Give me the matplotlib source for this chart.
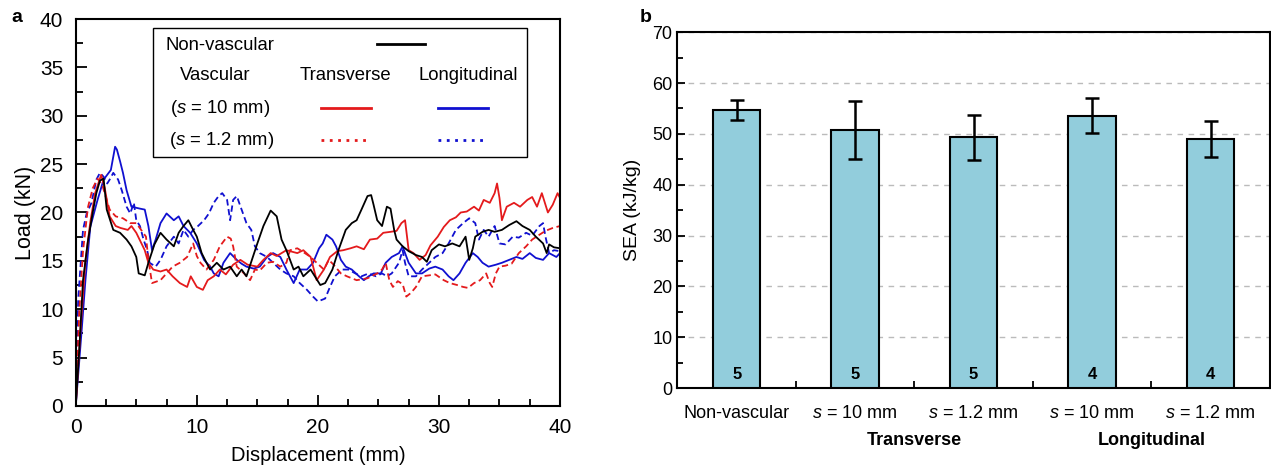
import numpy as np
import matplotlib
matplotlib.use("Agg")
import matplotlib.pyplot as plt
from matplotlib.patches import Rectangle
from matplotlib.ticker import MultipleLocator, FixedLocator
import matplotlib.transforms as mtransforms

plt.rcParams['font.family'] = ['Liberation Sans', 'DejaVu Sans']
plt.rcParams['mathtext.fontset'] = 'custom'
plt.rcParams['mathtext.it'] = 'Liberation Sans:italic'
plt.rcParams['mathtext.rm'] = 'Liberation Sans'

# ---- panel a: load-displacement curves (displacement mm, load kN) ----
non_vascular = [
    (0, 0), (0.3, 6), (0.6, 13), (1.0, 17), (1.4, 20), (1.7, 22), (2.0, 23.3), (2.3, 23.5),
    (2.56, 20.3), (3.1, 18.2), (3.66, 17.9), (4.2, 17.2), (4.6, 16.5), (5.0, 15.4), (5.2, 13.7),
    (5.7, 13.5), (6.0, 14.8), (6.5, 16.7), (7.0, 17.9), (7.5, 17.2), (8.1, 16.5), (8.5, 17.9),
    (8.9, 18.6), (9.3, 19.2), (9.7, 18.2), (10.0, 17.5), (10.4, 15.8), (10.8, 14.8), (11.1, 14.1),
    (11.65, 14.8), (12.2, 14.1), (12.75, 14.4), (13.3, 13.4), (13.7, 14.1), (14.1, 13.4),
    (15.0, 16.8), (15.5, 18.6), (16.1, 20.2), (16.6, 19.6), (17.0, 17.2), (17.4, 16.1),
    (18.0, 14.1), (18.4, 14.4), (18.8, 13.4), (19.4, 14.1), (20.2, 12.5), (20.6, 12.7),
    (21.2, 14.1), (21.7, 16.1), (22.3, 18.2), (22.8, 18.9), (23.2, 19.2), (23.6, 20.3),
    (24.1, 21.7), (24.4, 21.8), (24.6, 20.8), (24.9, 19.2), (25.3, 18.6), (25.7, 20.6),
    (26.0, 20.4), (26.3, 18.2), (26.5, 17.2), (27.0, 16.5), (27.5, 16.0), (28.1, 15.6),
    (28.6, 15.4), (29.0, 14.9), (29.4, 16.1), (30.0, 16.7), (30.5, 16.5), (31.1, 16.8),
    (31.7, 16.5), (32.2, 17.5), (32.5, 15.1), (32.8, 16.3), (33.0, 17.5), (33.6, 18.0),
    (34.1, 18.2), (34.6, 18.0), (35.2, 18.2), (35.8, 18.7), (36.4, 19.1), (36.9, 18.6),
    (37.5, 18.2), (38.0, 17.5), (38.6, 16.8), (38.9, 15.8), (39.1, 16.7), (39.5, 16.4), (40.0, 16.3),
]
transverse_10 = [
    (0, 0), (0.4, 8), (0.8, 15), (1.2, 19), (1.6, 22), (2.1, 23.9), (2.4, 22.5), (2.8, 19.6),
    (3.3, 18.6), (3.7, 18.4), (4.3, 18.2), (4.6, 18.6), (5.0, 17.9), (5.7, 16.1), (6.0, 14.8),
    (6.4, 14.1), (7.0, 13.9), (7.5, 14.1), (8.0, 13.4), (8.6, 12.7), (9.2, 12.3), (9.5, 13.4),
    (10.0, 12.3), (10.5, 12.0), (10.9, 13.0), (11.4, 13.4), (11.9, 14.1), (12.4, 13.6),
    (13.0, 14.6), (13.6, 15.1), (14.2, 14.6), (15.0, 14.4), (15.5, 15.1), (16.1, 15.8),
    (16.6, 15.5), (17.4, 16.1), (18.3, 15.8), (18.8, 16.1), (19.4, 15.4), (19.9, 13.0),
    (20.5, 14.1), (21.0, 15.4), (21.6, 16.0), (22.1, 16.1), (22.7, 16.3), (23.2, 16.5),
    (23.8, 16.2), (24.3, 17.2), (24.9, 17.3), (25.4, 17.9), (26.0, 18.0), (26.5, 18.1),
    (26.9, 18.9), (27.2, 19.2), (27.5, 16.1), (27.9, 15.8), (28.4, 15.1), (28.9, 15.6),
    (29.3, 16.6), (29.9, 17.5), (30.4, 18.5), (30.9, 19.2), (31.4, 19.5), (31.8, 20.0),
    (32.3, 20.1), (32.9, 20.6), (33.3, 20.2), (33.7, 21.3), (34.2, 21.0), (34.6, 22.0),
    (34.8, 23.0), (35.0, 21.5), (35.2, 19.2), (35.6, 20.6), (36.2, 21.0), (36.7, 20.6),
    (37.3, 21.3), (37.7, 21.6), (38.1, 20.6), (38.5, 22.0), (39.0, 20.0), (39.4, 20.8),
    (39.8, 22.0), (40.0, 21.5),
]
transverse_1p2 = [
    (0, 0), (0.3, 10), (0.6, 16), (1.0, 20.5), (1.4, 22.5), (1.8, 23.5), (2.2, 22.8), (2.8, 20.3),
    (3.3, 19.6), (3.9, 19.4), (4.5, 18.9), (5.0, 18.9), (5.4, 18.2), (5.8, 17.5), (6.0, 15.1),
    (6.3, 12.7), (7.0, 13.0), (7.5, 13.7), (8.0, 14.4), (8.6, 14.8), (9.2, 15.4), (9.7, 16.8),
    (10.0, 15.5), (10.3, 14.8), (10.8, 14.1), (11.4, 15.1), (11.9, 16.5), (12.5, 17.5),
    (12.8, 17.3), (13.0, 16.5), (13.3, 14.4), (13.9, 13.7), (14.4, 13.0), (14.8, 14.1),
    (15.2, 14.0), (15.8, 14.8), (16.3, 14.9), (16.9, 14.4), (17.4, 14.8), (17.7, 16.1),
    (18.3, 16.3), (18.8, 15.9), (19.4, 15.4), (19.9, 14.8), (20.5, 14.1), (20.9, 15.1),
    (21.3, 14.6), (21.9, 13.7), (22.4, 13.4), (23.2, 13.0), (24.1, 13.2), (24.9, 13.7),
    (25.3, 14.1), (25.6, 14.8), (25.9, 13.0), (26.2, 12.3), (26.6, 12.9), (27.0, 12.6),
    (27.3, 11.3), (27.7, 11.7), (28.1, 12.3), (28.6, 13.4), (29.2, 13.5), (29.7, 13.6),
    (30.4, 13.0), (30.9, 12.7), (31.5, 12.5), (32.0, 12.3), (32.4, 12.2), (32.9, 12.7),
    (33.4, 13.0), (33.9, 13.7), (34.2, 12.7), (34.4, 12.3), (34.7, 13.7), (35.0, 14.4),
    (35.5, 14.5), (36.0, 14.7), (36.6, 15.8), (37.2, 16.5), (37.7, 17.2), (38.3, 17.7),
    (38.8, 18.1), (39.4, 18.4), (40.0, 18.6),
]
longitudinal_10 = [
    (0, 0), (0.5, 8), (0.8, 13), (1.2, 18.5), (1.8, 21.3), (2.3, 23.4), (2.9, 24.4), (3.25, 26.8),
    (3.4, 26.5), (3.66, 25.3), (3.9, 24.1), (4.2, 22.3), (4.6, 20.6), (5.3, 20.4), (5.7, 20.3),
    (6.0, 18.6), (6.3, 16.1), (6.6, 17.2), (7.0, 18.9), (7.5, 19.9), (8.1, 19.2), (8.5, 19.6),
    (8.9, 18.6), (9.45, 17.9), (10.0, 16.8), (10.6, 15.1), (11.1, 14.4), (11.4, 13.7),
    (11.8, 13.4), (12.2, 14.8), (12.75, 15.8), (13.3, 15.1), (13.7, 14.7), (14.1, 14.4),
    (14.7, 14.2), (15.2, 14.4), (15.8, 15.4), (16.3, 15.8), (16.9, 15.4), (17.4, 14.1),
    (18.0, 12.7), (18.5, 14.1), (19.1, 14.1), (19.6, 14.8), (20.1, 16.3), (20.4, 16.8),
    (20.7, 17.7), (21.2, 17.2), (21.5, 16.5), (21.9, 15.1), (22.3, 14.4), (22.8, 14.1),
    (23.4, 13.4), (23.8, 13.0), (24.2, 13.4), (24.6, 13.7), (25.2, 13.7), (25.6, 14.8),
    (26.1, 15.4), (26.7, 15.8), (27.0, 16.5), (27.2, 15.8), (27.5, 14.8), (28.1, 13.7),
    (28.6, 13.7), (29.2, 14.2), (29.7, 14.4), (30.3, 14.1), (30.8, 13.4), (31.2, 13.0),
    (31.7, 13.7), (32.2, 14.8), (32.8, 15.8), (33.2, 15.4), (33.6, 14.8), (34.1, 14.4),
    (34.7, 14.6), (35.2, 14.8), (35.8, 15.1), (36.4, 15.4), (36.9, 15.2), (37.5, 15.8),
    (38.0, 15.3), (38.6, 15.1), (39.1, 15.8), (39.7, 15.4), (40.0, 15.8),
]
longitudinal_1p2 = [
    (0, 0), (0.2, 11), (0.6, 18.2), (0.9, 19.9), (1.3, 21), (1.7, 23.4), (2.0, 24.1), (2.3, 23.7),
    (2.6, 23), (2.8, 23.4), (3.1, 24.1), (3.5, 23.4), (3.8, 22.3), (4.2, 20.6), (4.5, 19.9),
    (4.8, 21.0), (5.0, 19.2), (5.3, 18.6), (5.6, 17.2), (5.9, 16.1), (6.1, 14.8), (6.6, 14.4),
    (7.0, 15.1), (7.5, 16.5), (8.1, 17.5), (8.5, 16.8), (8.9, 18.2), (9.3, 17.5), (9.7, 18.2),
    (10.1, 18.6), (10.6, 19.2), (11.0, 19.9), (11.4, 21.0), (11.8, 21.7), (12.1, 22.0),
    (12.5, 21.3), (12.75, 19.2), (13.0, 21.3), (13.3, 21.7), (13.7, 20.3), (14.1, 18.9),
    (14.5, 18.2), (14.8, 16.5), (15.2, 15.8), (15.8, 15.4), (16.3, 14.8), (16.9, 14.1),
    (17.4, 13.7), (18.0, 13.4), (18.5, 12.7), (19.1, 12.0), (19.6, 11.3), (20.0, 10.8),
    (20.6, 11.1), (21.0, 12.3), (21.4, 13.4), (22.0, 14.1), (22.5, 14.1), (23.1, 13.7),
    (23.6, 13.4), (24.2, 13.7), (24.8, 13.4), (25.3, 13.7), (25.7, 13.4), (26.1, 13.7),
    (26.7, 14.8), (27.0, 16.1), (27.2, 14.8), (27.5, 13.4), (28.1, 13.4), (28.6, 14.1),
    (29.2, 14.8), (29.7, 15.4), (30.3, 15.8), (30.8, 16.8), (31.4, 18.2), (32.0, 18.9),
    (32.5, 19.4), (33.0, 18.9), (33.3, 17.2), (33.7, 18.2), (34.1, 17.5), (34.6, 18.6),
    (35.0, 16.8), (35.5, 16.7), (36.1, 17.5), (36.6, 17.4), (37.2, 17.9), (37.7, 17.6),
    (38.3, 18.6), (38.6, 18.9), (38.8, 17.5), (39.1, 15.8), (39.5, 16.1), (40.0, 16.0),
]

# ---- panel b: specific energy absorption ----
categories = ["Non-vascular", "$s$ = 10 mm", "$s$ = 1.2 mm", "$s$ = 10 mm", "$s$ = 1.2 mm"]
sea_mean = [54.7, 50.7, 49.3, 53.6, 49.0]
sea_err = [1.9, 5.7, 4.5, 3.4, 3.6]
n_samples = [5, 5, 5, 4, 4]
groups = ["Transverse", "Longitudinal"]

RED = "#e41a1c"
BLUE = "#1010d0"

fig = plt.figure(figsize=(12.71, 4.66), dpi=100)
ax1 = fig.add_axes([0.0596, 0.129, 0.381, 0.830])
ax2 = fig.add_axes([0.533, 0.167, 0.466, 0.764])

dash = (0, (3.5, 2))
curves = [
    (longitudinal_1p2, BLUE, dash),
    (longitudinal_10, BLUE, "-"),
    (transverse_1p2, RED, dash),
    (transverse_10, RED, "-"),
    (non_vascular, "black", "-"),
]
for data, col, ls in curves:
    d = np.array(data)
    ax1.plot(d[:, 0], d[:, 1], color=col, linestyle=ls, lw=1.3)

ax1.set_xlim(0, 40)
ax1.set_ylim(0, 40)
ax1.xaxis.set_major_locator(MultipleLocator(10))
ax1.xaxis.set_minor_locator(MultipleLocator(2.5))
ax1.yaxis.set_major_locator(MultipleLocator(5))
ax1.yaxis.set_minor_locator(MultipleLocator(2.5))
ax1.tick_params(which="both", direction="in", width=1.3, labelsize=15, pad=9)
ax1.tick_params(which="major", length=8)
ax1.tick_params(which="minor", length=5)
ax1.set_xlabel("Displacement (mm)", fontsize=14.5, labelpad=6)
ax1.set_ylabel("Load (kN)", fontsize=15.5, labelpad=3)
for sp in ax1.spines.values():
    sp.set_linewidth(1.5)

# custom legend box
ax1.add_patch(Rectangle((0.160, 0.643), 0.772, 0.334, transform=ax1.transAxes,
                        fill=True, facecolor="white", edgecolor="black", lw=1.0, zorder=5))
lt = dict(transform=ax1.transAxes, fontsize=13.3, va="center", zorder=6)
ax1.text(0.185, 0.933, "Non-vascular", ha="left", **lt)
ax1.text(0.288, 0.855, "Vascular", ha="center", **lt)
ax1.text(0.556, 0.855, "Transverse", ha="center", **lt)
ax1.text(0.810, 0.855, "Longitudinal", ha="center", **lt)
ax1.text(0.298, 0.770, "($s$ = 10 mm)", ha="center", **lt)
ax1.text(0.302, 0.687, "($s$ = 1.2 mm)", ha="center", **lt)
ll = dict(transform=ax1.transAxes, lw=2.0, zorder=6)
ax1.plot([0.622, 0.721], [0.935, 0.935], color="black", **ll)
ax1.plot([0.507, 0.610], [0.770, 0.770], color=RED, **ll)
ax1.plot([0.748, 0.851], [0.770, 0.770], color=BLUE, **ll)
ax1.plot([0.507, 0.610], [0.687, 0.687], color=RED, linestyle=(0, (1, 2)), **ll)
ax1.plot([0.748, 0.851], [0.687, 0.687], color=BLUE, linestyle=(0, (1, 2)), **ll)

# bar chart
xpos = np.arange(len(categories))
ax2.bar(xpos, sea_mean, width=0.4, color="#92cddc", edgecolor="black", lw=1.5, zorder=3)
ax2.errorbar(xpos, sea_mean, yerr=sea_err, fmt="none", ecolor="black",
             elinewidth=1.8, capsize=5, capthick=1.8, zorder=4)
for xi, n in zip(xpos, n_samples):
    ax2.text(xi, 1.2, str(n), ha="center", va="bottom", fontsize=12, fontweight="bold", zorder=5)

ax2.set_xlim(-0.5, 4.5)
ax2.set_ylim(0, 70)
ax2.yaxis.set_major_locator(MultipleLocator(10))
ax2.yaxis.set_minor_locator(MultipleLocator(5))
ax2.set_xticks(xpos)
ax2.set_xticklabels(categories, fontsize=13)
ax2.xaxis.set_minor_locator(FixedLocator([0.5, 1.5, 2.5, 3.5]))
ax2.tick_params(axis="x", which="major", length=0, pad=12)
ax2.tick_params(axis="x", which="minor", direction="in", length=5, width=1.3)
ax2.tick_params(axis="y", which="both", direction="in", width=1.3, labelsize=13)
ax2.tick_params(axis="y", which="major", length=6)
ax2.tick_params(axis="y", which="minor", length=4)
ax2.set_ylabel("SEA (kJ/kg)", fontsize=14, labelpad=8)
ax2.yaxis.grid(True, linestyle=(0, (4, 4)), color="#bbbbbb", lw=1.0, zorder=0)
for sp in ax2.spines.values():
    sp.set_linewidth(1.5)

trans = mtransforms.blended_transform_factory(ax2.transData, ax2.transAxes)
for gx, g in zip([1.5, 3.5], groups):
    ax2.text(gx, -0.146, g, transform=trans, ha="center", va="center",
             fontsize=13, fontweight="bold")

fig.text(0.009, 0.962, "a", fontsize=14, fontweight="bold", va="center")
fig.text(0.503, 0.962, "b", fontsize=14, fontweight="bold", va="center")

fig.savefig("out.png", dpi=100)
